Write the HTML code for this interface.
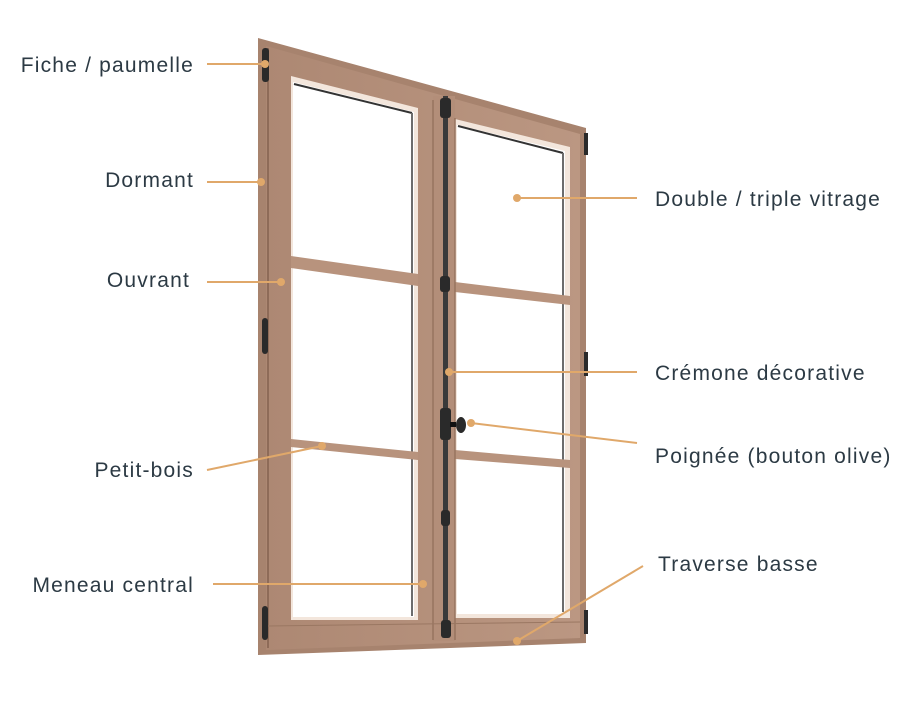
<!DOCTYPE html>
<html><head><meta charset="utf-8"><style>
html,body{margin:0;padding:0;background:#fff;}
svg{display:block;}
text{font-family:"Liberation Sans",sans-serif;font-size:21px;letter-spacing:1.2px;fill:#2c3a44;}
</style></head><body>
<svg width="917" height="715" viewBox="0 0 917 715" xmlns="http://www.w3.org/2000/svg">
<defs>
<linearGradient id="w" x1="0" x2="1" y1="0" y2="0"><stop offset="0" stop-color="#ad8873"/><stop offset="1" stop-color="#bb9782"/></linearGradient>
</defs>
<polygon points="258,38 586,128 586,643 258,655" fill="#a7836e"/>
<polygon points="266,46 580,134 580,638 266,650" fill="url(#w)"/>
<line x1="268" y1="48" x2="268" y2="648" stroke="#8e6b58" stroke-width="2"/>
<polygon points="291,76 418,108 418,620 291,620" fill="#f3e6dc"/>
<polygon points="293,82 414,112 414,617 293,617" fill="#ffffff"/>
<line x1="294" y1="84" x2="412" y2="113" stroke="#333" stroke-width="2"/>
<line x1="412" y1="113" x2="412" y2="616" stroke="#6c6c6c" stroke-width="2"/>
<polygon points="291,256 418,274 418,286 291,268" fill="#b8937d"/>
<polygon points="291,439 418,452 418,460 291,447" fill="#b8937d"/>
<polygon points="455,119 570,147 570,618 455,618" fill="#f3e6dc"/>
<polygon points="457,125 565,151 565,614 457,614" fill="#ffffff"/>
<line x1="458" y1="126" x2="563" y2="153" stroke="#333" stroke-width="2"/>
<line x1="563" y1="153" x2="563" y2="612" stroke="#6c6c6c" stroke-width="2"/>
<polygon points="455,282 570,296 570,305 455,292" fill="#b8937d"/>
<polygon points="455,450 570,460 570,468 455,459" fill="#b8937d"/>
<rect x="433" y="96" width="22" height="545" fill="#b38e79"/>
<line x1="433" y1="100" x2="433" y2="640" stroke="#97745f" stroke-width="1.5"/>
<line x1="455" y1="118" x2="455" y2="640" stroke="#97745f" stroke-width="1.5"/>
<line x1="268" y1="626" x2="580" y2="622" stroke="#9a7762" stroke-width="1"/>
<rect x="443" y="96" width="5" height="540" fill="#3a3a3a"/>
<rect x="440" y="98" width="11" height="20" rx="3" fill="#2a2a2a"/>
<rect x="440" y="276" width="10" height="16" rx="3" fill="#2a2a2a"/>
<rect x="440" y="408" width="11" height="32" rx="3" fill="#2a2a2a"/>
<ellipse cx="461" cy="425" rx="5" ry="8" fill="#2a2a2a"/>
<rect x="450" y="422" width="6" height="5" fill="#111"/>
<rect x="441" y="510" width="9" height="16" rx="3" fill="#2a2a2a"/>
<rect x="441" y="620" width="10" height="18" rx="3" fill="#2a2a2a"/>
<rect x="262" y="48" width="7" height="34" rx="3" fill="#2a2a2a"/>
<rect x="262" y="318" width="6" height="36" rx="3" fill="#2a2a2a"/>
<rect x="262" y="606" width="6" height="34" rx="3" fill="#2a2a2a"/>
<rect x="584" y="133" width="4" height="22" fill="#2a2a2a"/>
<rect x="584" y="352" width="4" height="24" fill="#2a2a2a"/>
<rect x="584" y="610" width="4" height="24" fill="#2a2a2a"/>
<g stroke="#e0a86a" stroke-width="2" fill="none">
<line x1="207" y1="64" x2="265" y2="64"/>
<line x1="207" y1="182" x2="261" y2="182"/>
<line x1="207" y1="282" x2="281" y2="282"/>
<line x1="207" y1="470" x2="322" y2="446"/>
<line x1="213" y1="584" x2="423" y2="584"/>
<line x1="637" y1="198" x2="517" y2="198"/>
<line x1="637" y1="372" x2="449" y2="372"/>
<line x1="637" y1="443" x2="471" y2="423"/>
<line x1="643" y1="566" x2="517" y2="641"/>
</g>
<g fill="#e0a86a">
<circle cx="265" cy="64" r="4"/><circle cx="261" cy="182" r="4"/><circle cx="281" cy="282" r="4"/>
<circle cx="322" cy="446" r="4"/><circle cx="423" cy="584" r="4"/><circle cx="517" cy="198" r="4"/>
<circle cx="449" cy="372" r="4"/><circle cx="471" cy="423" r="4"/><circle cx="517" cy="641" r="4"/>
</g>
<text x="194" y="72" text-anchor="end">Fiche / paumelle</text>
<text x="194" y="187" text-anchor="end">Dormant</text>
<text x="190" y="287" text-anchor="end">Ouvrant</text>
<text x="194" y="477" text-anchor="end">Petit-bois</text>
<text x="194" y="592" text-anchor="end">Meneau central</text>
<text x="655" y="206">Double / triple vitrage</text>
<text x="655" y="380">Crémone décorative</text>
<text x="655" y="463">Poignée (bouton olive)</text>
<text x="658" y="571">Traverse basse</text>
</svg>
</body></html>
